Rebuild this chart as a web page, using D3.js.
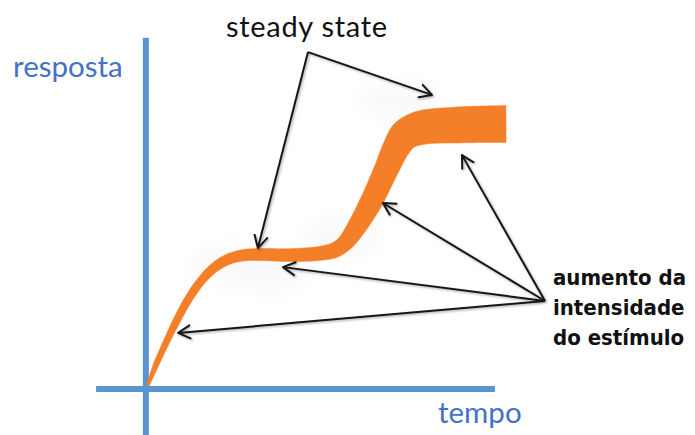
<!DOCTYPE html>
<html>
<head>
<meta charset="utf-8">
<script src="https://cdn.jsdelivr.net/npm/d3@7"></script>
<style>
  html, body { margin: 0; padding: 0; background: #fff; }
  svg { display: block; }
</style>
</head>
<body>
<div id="chart"></div>
<script>
// centre of the response curve, [tempo, resposta]
var responseCurve = [
  [0.0, 0.0], [0.22, 0.71], [0.50, 1.50], [0.81, 2.32], [1.15, 3.11],
  [1.48, 3.71], [1.84, 4.18], [2.26, 4.50], [2.71, 4.64], [3.13, 4.66],
  [3.97, 4.64], [4.80, 4.70], [5.22, 4.82], [5.50, 5.07], [5.70, 5.39],
  [6.20, 6.46], [6.65, 7.68], [6.93, 8.46], [7.18, 8.93], [7.60, 9.18],
  [8.72, 9.29], [10.0, 9.32]
];
// spread of the response (band thickness) at each point, resposta units
var responseSpread = [
  0.11, 0.20, 0.23, 0.27, 0.29, 0.30, 0.34, 0.38, 0.41, 0.43,
  0.46, 0.50, 0.54, 0.57, 0.64, 0.79, 0.86, 0.96, 1.11, 1.21,
  1.29, 1.32
];

// annotation arrows: one origin, several targets
var steadyFrom = [4.47, 11.89];
var steadyTargets = [[3.07, 4.89], [7.93, 10.36]];
var stimulusFrom = [11.09, 3.0];
var stimulusTargets = [[0.84, 1.86], [3.77, 4.21], [6.56, 6.50], [8.77, 8.21]];

// faint haze behind the curve
var hazeCenters = [[2.3, 4.3], [3.4, 4.0], [5.4, 5.3], [7.0, 10.2]];

var axisLabels = ["resposta", "tempo"];
var steadyLabel = "steady state";
var stimulusLines = ["aumento da", "intensidade", "do estímulo"];

var width = 695, height = 435;
var orange = "#f57f29";
var axisBlue = "#5b95d0";
var textBlue = "#4472c4";

var x = d3.scaleLinear().domain([0, 10]).range([148, 506]);
var y = d3.scaleLinear().domain([0, 10]).range([385, 105]);

var svg = d3.select("#chart")
  .append("svg")
  .attr("width", width)
  .attr("height", height)
  .attr("viewBox", "0 0 " + width + " " + height);

var defs = svg.append("defs");

var shadow = defs.append("filter")
  .attr("id", "shadow")
  .attr("x", "-20%").attr("y", "-20%")
  .attr("width", "140%").attr("height", "140%");
shadow.append("feDropShadow")
  .attr("dx", 1.2)
  .attr("dy", 1.2)
  .attr("stdDeviation", 0.9)
  .attr("flood-color", "#000")
  .attr("flood-opacity", 0.35);

var blur = defs.append("filter").attr("id", "haze");
blur.append("feGaussianBlur").attr("stdDeviation", 8);

defs.append("marker")
  .attr("id", "head")
  .attr("markerUnits", "userSpaceOnUse")
  .attr("viewBox", "-1 -8 15 16")
  .attr("refX", 12)
  .attr("refY", 0)
  .attr("markerWidth", 15)
  .attr("markerHeight", 16)
  .attr("orient", "auto")
  .append("path")
  .attr("d", "M0,-6.5L12,0L0,6.5")
  .attr("fill", "none")
  .attr("stroke", "#151515")
  .attr("stroke-width", 2)
  .attr("stroke-linecap", "round")
  .attr("stroke-linejoin", "round");

// haze
svg.append("g")
  .attr("filter", "url(#haze)")
  .selectAll("ellipse")
  .data(hazeCenters)
  .enter()
  .append("ellipse")
  .attr("cx", function (d) { return x(d[0]); })
  .attr("cy", function (d) { return y(d[1]); })
  .attr("rx", 40)
  .attr("ry", 22)
  .attr("fill", "#fafafc");

// axes
var axes = svg.append("g")
  .attr("stroke", axisBlue)
  .attr("stroke-width", 6);
axes.append("line")
  .attr("x1", x(-0.06)).attr("x2", x(-0.06))
  .attr("y1", y(12.4)).attr("y2", height);
axes.append("line")
  .attr("x1", x(-1.45)).attr("x2", x(9.69))
  .attr("y1", y(-0.14)).attr("y2", y(-0.14));

// response band: smooth centre line, widened along its normal
var centre = d3.line()
  .x(function (d) { return x(d[0]); })
  .y(function (d) { return y(d[1]); })
  .curve(d3.curveCatmullRom.alpha(0.5));

var guide = svg.append("path")
  .attr("d", centre(responseCurve))
  .attr("fill", "none")
  .attr("stroke", "none");

var pxPerUnit = Math.abs(y(1) - y(0));
var spreadAt = d3.scaleLinear()
  .domain(responseCurve.map(function (d) { return x(d[0]); }))
  .range(responseSpread.map(function (s) { return s * pxPerUnit; }))
  .clamp(true);

var node = guide.node();
var total = node.getTotalLength();
var steps = 400;
var samples = d3.range(steps + 1).map(function (i) {
  return node.getPointAtLength(total * i / steps);
});
var upper = [], lower = [];
samples.forEach(function (p, i) {
  var a = samples[Math.max(0, i - 1)];
  var b = samples[Math.min(steps, i + 1)];
  var dx = b.x - a.x, dy = b.y - a.y;
  var len = Math.sqrt(dx * dx + dy * dy) || 1;
  var nx = dy / len, ny = -dx / len;
  var half = spreadAt(p.x) / 2;
  upper.push([p.x + nx * half, p.y + ny * half]);
  lower.push([p.x - nx * half, p.y - ny * half]);
});
guide.remove();

svg.append("path")
  .attr("d", d3.line()(upper.concat(lower.reverse())) + "Z")
  .attr("fill", orange)
  .attr("stroke", orange)
  .attr("stroke-width", 0.5);

// arrows
function drawArrows(from, targets) {
  svg.append("g")
    .attr("filter", "url(#shadow)")
    .selectAll("line")
    .data(targets)
    .enter()
    .append("line")
    .attr("x1", x(from[0]))
    .attr("y1", y(from[1]))
    .attr("x2", function (d) { return x(d[0]); })
    .attr("y2", function (d) { return y(d[1]); })
    .attr("stroke", "#151515")
    .attr("stroke-width", 2)
    .attr("marker-end", "url(#head)");
}
drawArrows(steadyFrom, steadyTargets);
drawArrows(stimulusFrom, stimulusTargets);

// labels
svg.append("text")
  .attr("x", 13)
  .attr("y", 77)
  .attr("font-family", "Lato, 'Open Sans', sans-serif")
  .attr("font-size", "29.5px")
  .attr("fill", textBlue)
  .text(axisLabels[0]);

svg.append("text")
  .attr("x", 438)
  .attr("y", 423)
  .attr("font-family", "Lato, 'Open Sans', sans-serif")
  .attr("font-size", "29.5px")
  .attr("fill", textBlue)
  .text(axisLabels[1]);

svg.append("text")
  .attr("x", 226)
  .attr("y", 37)
  .attr("font-family", "Lato, 'Open Sans', sans-serif")
  .attr("font-size", "29px")
  .attr("letter-spacing", "0.7px")
  .attr("fill", "#111")
  .text(steadyLabel);

svg.append("g")
  .selectAll("text")
  .data(stimulusLines)
  .enter()
  .append("text")
  .attr("x", 553)
  .attr("y", function (d, i) { return 285 + i * 30; })
  .attr("font-family", "'DejaVu Sans Condensed', 'DejaVu Sans', sans-serif")
  .attr("font-weight", "bold")
  .attr("font-size", "22px")
  .attr("fill", "#111")
  .text(function (d) { return d; });
</script>
</body>
</html>
